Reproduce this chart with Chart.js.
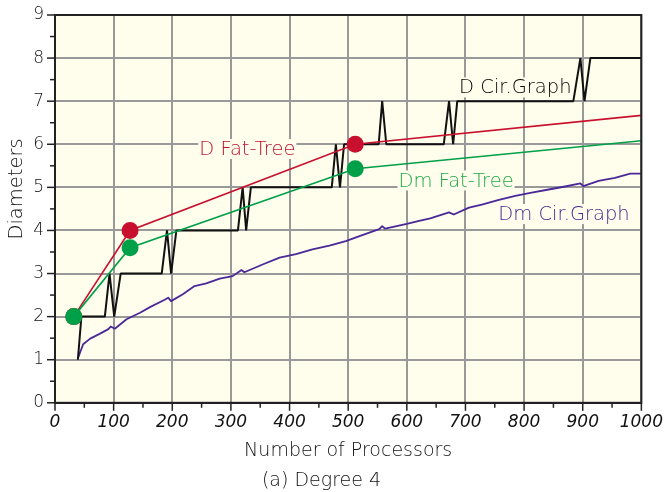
<!DOCTYPE html>
<html><head><meta charset="utf-8">
<script src="https://cdn.jsdelivr.net/npm/chart.js@4"></script>
<style>html,body{margin:0;padding:0;background:#fff}canvas{display:block}</style>
</head><body><canvas id="c" width="665" height="492"></canvas>
<script>
// ---- data ----
const fatTreeN  = [32, 128, 512, 1000];
const dFatTree  = [2, 4, 6, 6.67];
const dmFatTree = [2, 3.6, 5.43, 6.08];

const dCirN = [39,45,85,93,101,112,182,191,198,207,312,320,326,334,472,479,486,493,552,558,565,663,672,679,686,884,896,903,913,1000];
const dCirV = [1,2,2,3,2,3,3,4,3,4,4,5,4,5,5,6,5,6,6,7,6,6,7,6,7,7,8,7,8,8];

const dmCirN = [39,48,60,76,91,95,102,122,145,162,187,193,198,218,238,258,281,303,318,323,354,383,411,439,468,496,524,553,558,563,600,621,640,672,680,706,728,757,785,813,842,870,896,901,927,955,981,1000];
const dmCirV = [1.03,1.36,1.49,1.6,1.71,1.77,1.72,1.94,2.09,2.22,2.39,2.44,2.36,2.52,2.71,2.77,2.88,2.94,3.08,3.03,3.21,3.37,3.45,3.56,3.65,3.75,3.89,4.03,4.1,4.04,4.15,4.22,4.28,4.42,4.37,4.53,4.6,4.71,4.8,4.88,4.95,5.02,5.09,5.03,5.15,5.22,5.32,5.32];

const xTickLabels = [0,100,200,300,400,500,600,700,800,900,1000];
const yTickLabels = [0,1,2,3,4,5,6,7,8,9];
const seriesNames = ['D Fat-Tree','Dm Fat-Tree','D Cir.Graph','Dm Cir.Graph'];
const xTitle = 'Number of Processors';
const yTitle = 'Diameters';
const caption = '(a) Degree 4';

// ---- styling ----
const FONT = "'DejaVu Sans', sans-serif";
const W = '300';
const TXT = '#111';
const BG = '#fffdec';
const GRID = '#999999';
const AXIS = '#222';
const RED = '#c8102e', GREEN = '#00a048', BLACK = '#111', PURPLE = '#4a2898';

const pts = (xs, ys) => xs.map((x, i) => ({x, y: ys[i]}));

// label anchors (data coordinates) for in-plot series names
const seriesLabelAnchors = [
  {name: seriesNames[0], x: 328, y: 5.89, color: '#c0102e'},
  {name: seriesNames[1], x: 684, y: 5.16, color: '#20a846'},
  {name: seriesNames[2], x: 785, y: 7.32, color: '#000'},
  {name: seriesNames[3], x: 868, y: 4.38, color: '#452890'}
];

const bgPlugin = {
  id: 'bg',
  beforeDraw(chart) {
    const {ctx, chartArea: a} = chart;
    ctx.save(); ctx.fillStyle = BG;
    ctx.fillRect(a.left, a.top, a.right - a.left, a.bottom - a.top);
    ctx.restore();
  },
  afterDraw(chart) {
    const {ctx, chartArea: a, scales} = chart;
    ctx.save();
    // series labels
    ctx.font = W + " 19.5px " + FONT;
    ctx.textAlign = 'center'; ctx.textBaseline = 'middle';
    seriesLabelAnchors.forEach(l => {
      const px = scales.x.getPixelForValue(l.x), py = scales.y.getPixelForValue(l.y);
      const w = ctx.measureText(l.name).width;
      ctx.fillStyle = BG;
      ctx.fillRect(px - w/2 - 1, py - 10, w + 2, 20);
      ctx.fillStyle = l.color;
      ctx.fillText(l.name, px, py + 1);
    });
    // frame
    ctx.strokeStyle = AXIS; ctx.lineWidth = 2;
    ctx.strokeRect(a.left, a.top, a.right - a.left, a.bottom - a.top);
    // tick marks
    ctx.lineWidth = 1.5;
    scales.y.ticks.forEach(t => {
      const y = scales.y.getPixelForValue(t.value);
      const len = Number.isInteger(t.value) ? 8 : 5;
      ctx.beginPath(); ctx.moveTo(a.left - len, y); ctx.lineTo(a.left, y); ctx.stroke();
    });
    scales.x.ticks.forEach(t => {
      const x = scales.x.getPixelForValue(t.value);
      const len = (t.value % 100 === 0) ? 8 : 5;
      ctx.beginPath(); ctx.moveTo(x, a.bottom); ctx.lineTo(x, a.bottom + len); ctx.stroke();
    });
    // y title
    ctx.font = W + " 19.5px " + FONT; ctx.fillStyle = TXT;
    ctx.translate(17, 189); ctx.rotate(-Math.PI/2);
    ctx.fillText(yTitle, 0, 0);
    ctx.restore();
  }
};

new Chart(document.getElementById('c'), {
  type: 'line',
  data: {
    datasets: [
      {label: seriesNames[1], data: pts(fatTreeN, dmFatTree), borderColor: GREEN, backgroundColor: GREEN,
       borderWidth: 1.6, pointRadius: [8.5,8.5,8.5,0], pointBorderWidth: 0, pointBackgroundColor: GREEN, order: 0},
      {label: seriesNames[0], data: pts(fatTreeN, dFatTree), borderColor: RED, backgroundColor: RED,
       borderWidth: 1.6, pointRadius: [8.5,8.5,8.5,0], pointBorderWidth: 0, pointBackgroundColor: RED, order: 1},
      {label: seriesNames[2], data: pts(dCirN, dCirV), borderColor: BLACK, borderWidth: 2, pointRadius: 0,
       borderJoinStyle: 'bevel', order: 2},
      {label: seriesNames[3], data: pts(dmCirN, dmCirV), borderColor: PURPLE, borderWidth: 1.8, pointRadius: 0,
       borderJoinStyle: 'round', order: 3}
    ]
  },
  options: {
    responsive: false, animation: false, devicePixelRatio: 1,
    layout: {padding: {top: 15, right: 22, left: 0, bottom: 0}},
    elements: {line: {tension: 0, fill: false}},
    plugins: {
      legend: {display: false}, tooltip: {enabled: false},
      title: {display: true, text: caption, position: 'bottom', color: TXT,
              font: {family: FONT, size: 19, weight: W}, padding: {top: 0, bottom: 0}}
    },
    scales: {
      x: {
        type: 'linear', min: 0, max: 1000,
        afterFit: s => { s.height = 66.4; },
        ticks: {stepSize: 50, autoSkip: false, maxRotation: 0, padding: 2, color: TXT,
                font: {family: FONT, size: 17, style: 'italic', weight: W},
                callback: v => xTickLabels.includes(v) ? String(v) : ''},
        grid: {color: c => (c.tick && c.tick.value % 100 === 0) ? GRID : 'rgba(0,0,0,0)', lineWidth: 2,
               tickLength: 8, tickColor: 'rgba(0,0,0,0)'},
        border: {color: AXIS, width: 2},
        title: {display: true, text: xTitle, color: TXT, font: {family: FONT, size: 19, weight: W},
                padding: {top: 0, bottom: 7.2}}
      },
      y: {
        min: 0, max: 9,
        afterFit: s => { s.width = 55; },
        ticks: {stepSize: 0.5, autoSkip: false, padding: 3, color: TXT,
                font: {family: FONT, size: 17, weight: W},
                callback: v => yTickLabels.includes(v) ? String(v) : ''},
        grid: {color: c => (c.tick && Number.isInteger(c.tick.value)) ? GRID : 'rgba(0,0,0,0)', lineWidth: 2,
               tickLength: 8, tickColor: 'rgba(0,0,0,0)'},
        border: {color: AXIS, width: 2}
      }
    }
  },
  plugins: [bgPlugin]
});
</script></body></html>
